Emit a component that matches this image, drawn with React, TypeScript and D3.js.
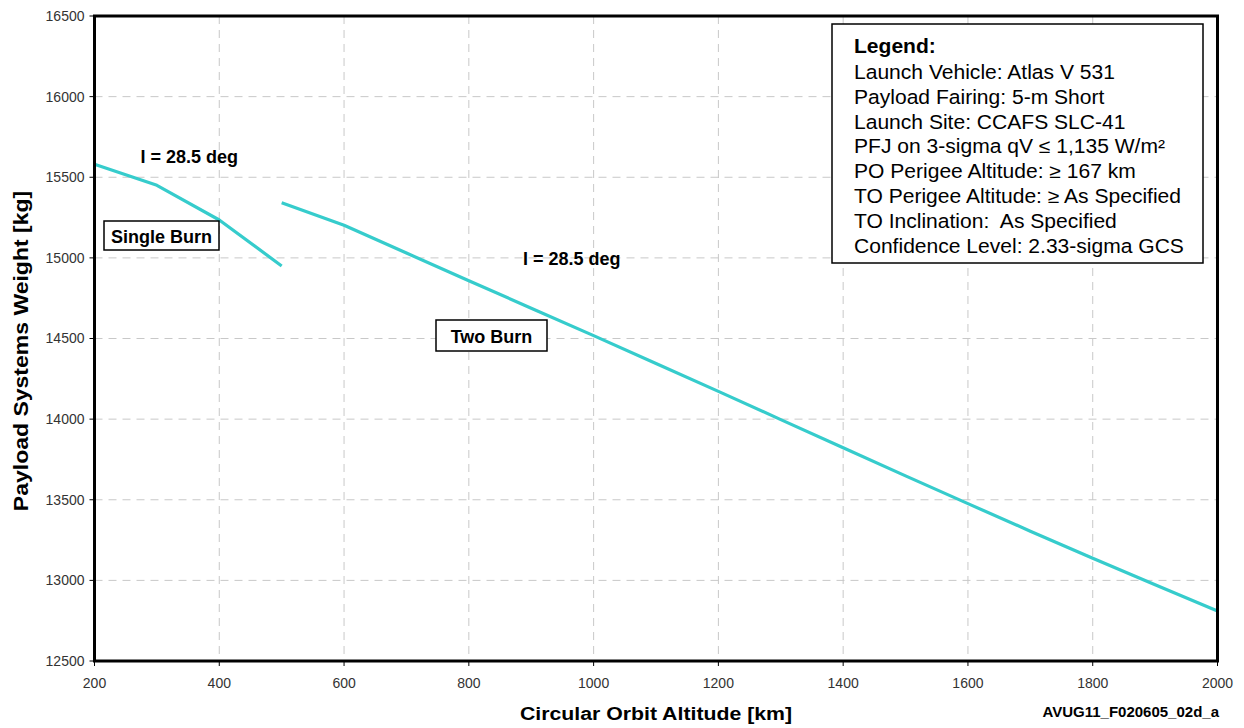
import React from "react";
import * as d3 from "d3";

const singleBurnAlt = [200, 300, 400, 500];
const singleBurnMass = [15580, 15450, 15235, 14950];
const twoBurnAlt = [500, 600, 700, 800, 900, 1000, 1100, 1200, 1300, 1400, 1500, 1600, 1700, 1800, 1900, 2000];
const twoBurnMass = [15342, 15202, 15030, 14858, 14688, 14518, 14345, 14172, 13997, 13822, 13648, 13476, 13305, 13137, 12973, 12810];
const xTicks = [200, 400, 600, 800, 1000, 1200, 1400, 1600, 1800, 2000];
const yTicks = [12500, 13000, 13500, 14000, 14500, 15000, 15500, 16000, 16500];
const legendLines = [
  "Launch Vehicle: Atlas V 531",
  "Payload Fairing: 5-m Short",
  "Launch Site: CCAFS SLC-41",
  "PFJ on 3-sigma qV \u2264 1,135 W/m\u00B2",
  "PO Perigee Altitude: \u2265 167 km",
  "TO Perigee Altitude: \u2265 As Specified",
  "TO Inclination:  As Specified",
  "Confidence Level: 2.33-sigma GCS",
];

const L = 94.5, R = 1217.5, T = 16, B = 661;
const FONT = "Arial, 'Liberation Sans', Helvetica, sans-serif";
const LINE = "#36CCCC";

export default function App() {
  const x = d3.scaleLinear().domain([200, 2000]).range([L, R]);
  const y = d3.scaleLinear().domain([12500, 16500]).range([B, T]);
  const line = d3.line<[number, number]>().x((d) => x(d[0])).y((d) => y(d[1]));
  const single = line(singleBurnAlt.map((a, i) => [a, singleBurnMass[i]] as [number, number])) || "";
  const two = line(twoBurnAlt.map((a, i) => [a, twoBurnMass[i]] as [number, number])) || "";

  return (
    <svg width={1244} height={728} style={{ position: "absolute", left: 0, top: 0, background: "#fff" }} fontFamily={FONT}>
      <rect x={0} y={0} width={1244} height={728} fill="#fff" />
      {/* grid */}
      {xTicks.slice(1, -1).map((t) => (
        <line key={"gx" + t} x1={x(t)} x2={x(t)} y1={T} y2={B} stroke="#c8c8c8" strokeWidth={1} strokeDasharray="8,6" />
      ))}
      {yTicks.slice(1, -1).map((t) => (
        <line key={"gy" + t} x1={L} x2={R} y1={y(t)} y2={y(t)} stroke="#c8c8c8" strokeWidth={1} strokeDasharray="8,6" />
      ))}
      {/* ticks */}
      {yTicks.map((t) => (
        <g key={"ty" + t}>
          <line x1={L - 5} x2={L} y1={y(t)} y2={y(t)} stroke="#000" strokeWidth={1} />
          <text x={L - 10} y={y(t)} dy="0.35em" textAnchor="end" fontSize={14} fill="#333">{t}</text>
        </g>
      ))}
      {xTicks.map((t) => (
        <g key={"tx" + t}>
          <line x1={x(t)} x2={x(t)} y1={B} y2={B + 5} stroke="#000" strokeWidth={1} />
          <text x={x(t)} y={688} textAnchor="middle" fontSize={14} fill="#333">{t}</text>
        </g>
      ))}
      {/* data */}
      <path d={single} fill="none" stroke={LINE} strokeWidth={3.2} strokeLinejoin="round" />
      <path d={two} fill="none" stroke={LINE} strokeWidth={3.2} strokeLinejoin="round" />
      {/* frame */}
      <rect x={L} y={T} width={R - L} height={B - T} fill="none" stroke="#000" strokeWidth={3} />
      {/* annotations */}
      <text x={x(200) + 46} y={163} fontSize={18} fontWeight="bold">I = 28.5 deg</text>
      <text x={523} y={265} fontSize={18} fontWeight="bold">I = 28.5 deg</text>
      <rect x={104} y={221} width={115} height={29} fill="#fff" stroke="#000" strokeWidth={1.5} />
      <text x={161.5} y={242.5} textAnchor="middle" fontSize={18} fontWeight="bold">Single Burn</text>
      <rect x={436} y={320} width={111} height={31} fill="#fff" stroke="#000" strokeWidth={1.5} />
      <text x={491.5} y={342.5} textAnchor="middle" fontSize={18} fontWeight="bold">Two Burn</text>
      {/* legend */}
      <rect x={832} y={24} width={371} height={239} fill="#fff" stroke="#000" strokeWidth={1.5} />
      <g transform="translate(854,53) scale(1.08,1)">
        <text x={0} y={0} fontSize={19.5} fontWeight="bold">Legend:</text>
        {legendLines.map((s, i) => (
          <text key={i} x={0} y={26 + i * 24.8} fontSize={19.5} style={{ whiteSpace: "pre" }}>{s}</text>
        ))}
      </g>
      {/* axis titles */}
      <g transform="translate(656,720) scale(1.12,1)">
        <text x={0} y={0} textAnchor="middle" fontSize={19} fontWeight="bold">Circular Orbit Altitude [km]</text>
      </g>
      <g transform="translate(28,351) rotate(-90) scale(1.15,1)">
        <text x={0} y={0} textAnchor="middle" fontSize={20} fontWeight="bold">Payload Systems Weight [kg]</text>
      </g>
      <text x={1219} y={716.5} textAnchor="end" fontSize={15} fontWeight="bold">AVUG11_F020605_02d_a</text>
    </svg>
  );
}
